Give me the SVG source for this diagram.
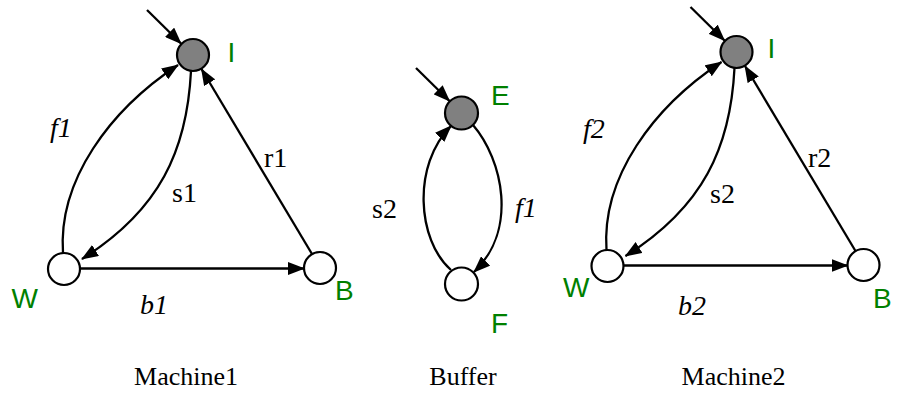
<svg xmlns="http://www.w3.org/2000/svg" width="898" height="396" viewBox="0 0 898 396">
<style>
.st{stroke:#000;stroke-width:2.2;}
.init{fill:#808080;}
.plain{fill:#fff;}
.e{fill:none;stroke:#000;stroke-width:2.3;marker-end:url(#ah);}
.nl{font-family:"Liberation Sans",Arial,sans-serif;font-size:28px;fill:#008000;}
.el{font-family:"Liberation Serif","Times New Roman",serif;font-size:28px;fill:#000;}
.it{font-style:italic;}
.cap{font-family:"Liberation Serif","Times New Roman",serif;font-size:26px;fill:#000;text-anchor:middle;}
</style>
<defs>
<marker id="ah" viewBox="0 0 17 13" markerWidth="17" markerHeight="13" refX="16" refY="6.5" orient="auto" markerUnits="userSpaceOnUse">
<path d="M0,0 L17,6.5 L0,13 z" fill="#000"/>
</marker>
</defs>
<rect width="898" height="396" fill="#fff"/>
<g id="connectors">
<g id="m1-edges">
<path class="e" d="M147,10 L181,43.5"/>
<path class="e" d="M63,253 C58,180 110,110 178,65"/>
<path class="e" d="M191,71 C187,150 160,210 82,259"/>
<path class="e" d="M312,254 L201.5,69"/>
<path class="e" d="M80,268.5 L304,268.5"/>
</g>
<g id="buf-edges">
<path class="e" d="M416,68 L449.5,101"/>
<path class="e" d="M473,125 C503,160 518,230 474,272"/>
<path class="e" d="M451,270 C417,240 412,165 451,126"/>
</g>
<g id="m2-edges" transform="translate(543.5,-3)">
<path class="e" d="M147,10 L181,43.5"/>
<path class="e" d="M63,253 C58,180 110,110 178,65"/>
<path class="e" d="M191,71 C187,150 160,210 82,259"/>
<path class="e" d="M312,254 L201.5,69"/>
<path class="e" d="M80,268.5 L304,268.5"/>
</g>
</g>
<g id="m1-I"><circle class="st init" cx="193" cy="55" r="16"/><text class="nl" x="227.5" y="62">I</text></g>
<g id="m1-W"><circle class="st plain" cx="64" cy="269" r="16"/><text class="nl" x="11.5" y="308">W</text></g>
<g id="m1-B"><circle class="st plain" cx="320" cy="268" r="16"/><text class="nl" x="335" y="300">B</text></g>
<g id="buf-E"><circle class="st init" cx="461.5" cy="113" r="16.5"/><text class="nl" x="491" y="105">E</text></g>
<g id="buf-F"><circle class="st plain" cx="461.5" cy="284" r="16.5"/><text class="nl" x="491" y="333">F</text></g>
<g id="m2-I"><circle class="st init" cx="736.5" cy="52" r="16"/><text class="nl" x="767.5" y="58">I</text></g>
<g id="m2-W"><circle class="st plain" cx="607.5" cy="266" r="16"/><text class="nl" x="563" y="297">W</text></g>
<g id="m2-B"><circle class="st plain" cx="863.5" cy="265" r="16"/><text class="nl" x="873" y="308">B</text></g>
<g id="edge-labels">
<text class="el it" x="50" y="137">f1</text>
<text class="el" x="172" y="202">s1</text>
<text class="el" x="264" y="167">r1</text>
<text class="el it" x="140" y="314">b1</text>
<text class="el" x="372" y="218">s2</text>
<text class="el it" x="515" y="217">f1</text>
<text class="el it" x="583" y="138">f2</text>
<text class="el" x="710" y="203">s2</text>
<text class="el" x="808" y="167">r2</text>
<text class="el it" x="678" y="315">b2</text>
</g>
<g id="captions">
<text class="cap" x="186" y="385">Machine1</text>
<text class="cap" x="463" y="385">Buffer</text>
<text class="cap" x="733.5" y="385">Machine2</text>
</g>
</svg>
